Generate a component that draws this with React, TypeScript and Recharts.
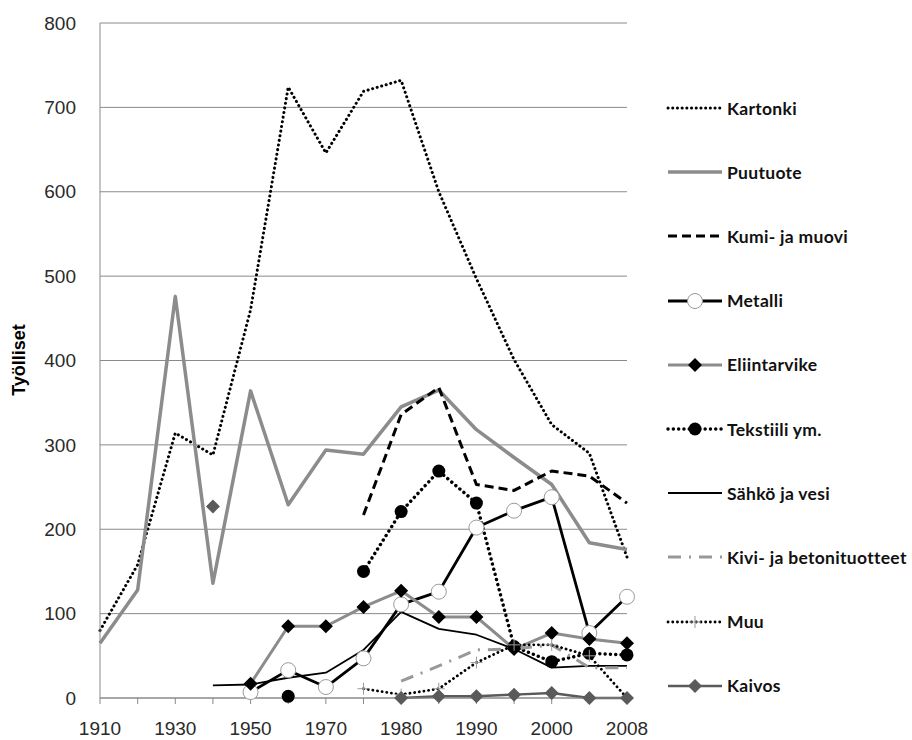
import { CartesianGrid, Legend, Line, LineChart, XAxis, YAxis } from "recharts";

const years = [
  "1910", "1920", "1930", "1940", "1950", "1960", "1970", "1975",
  "1980", "1985", "1990", "1995", "2000", "2005", "2008",
];

const kartonki = [80, 158, 314, 288, 460, 724, 646, 719, 732, 600, 497, 401, 324, 290, 167];
const puutuote = [65, 128, 476, 136, 364, 229, 294, 289, 345, 365, 318, 285, 253, 184, 176];
const kumi = [null, null, null, null, null, null, null, 217, 336, 368, 253, 246, 269, 263, 231];
const metalli = [null, null, null, null, 7, 33, 13, 47, 111, 126, 202, 222, 238, 77, 120];
const eliintarvike = [null, null, null, null, 17, 85, 85, 108, 127, 96, 96, 58, 77, 70, 65];
const tekstiili = [null, null, null, null, null, 2, null, 150, 221, 269, 231, 61, 43, 53, 51];
const sahko = [null, null, null, 15, 16, 24, 30, 57, 102, 82, 75, 58, 36, 38, 38];
const kivi = [null, null, null, null, null, null, null, null, 20, 38, 57, 58, 63, 36, 36];
const muu = [null, null, null, null, null, null, null, 11, 4, 11, 42, 63, 63, 50, 0];
const kaivos = [null, null, null, 227, null, null, null, null, 0, 2, 2, 4, 6, 0, 0];

const yTicks = [0, 100, 200, 300, 400, 500, 600, 700, 800];

type Marker = "none" | "circleOpen" | "circleFilled" | "diamond" | "diamondDark" | "plus";

interface Series {
  key: string;
  name: string;
  values: (number | null)[];
  stroke: string;
  width: number;
  dash?: string;
  round?: boolean;
  marker: Marker;
}

const SERIES: Series[] = [
  { key: "kartonki", name: "Kartonki", values: kartonki, stroke: "#000", width: 3, dash: "0.1 4.6", round: true, marker: "none" },
  { key: "puutuote", name: "Puutuote", values: puutuote, stroke: "#8c8c8c", width: 3.5, marker: "none" },
  { key: "kumi", name: "Kumi- ja muovi", values: kumi, stroke: "#000", width: 3, dash: "9 5", marker: "none" },
  { key: "metalli", name: "Metalli", values: metalli, stroke: "#000", width: 2.8, marker: "circleOpen" },
  { key: "eliintarvike", name: "Eliintarvike", values: eliintarvike, stroke: "#8c8c8c", width: 3, marker: "diamond" },
  { key: "tekstiili", name: "Tekstiili ym.", values: tekstiili, stroke: "#000", width: 3.4, dash: "0.1 5.2", round: true, marker: "circleFilled" },
  { key: "sahko", name: "Sähkö ja vesi", values: sahko, stroke: "#000", width: 1.8, marker: "none" },
  { key: "kivi", name: "Kivi- ja betonituotteet", values: kivi, stroke: "#999", width: 3, dash: "13 8 2 8", marker: "none" },
  { key: "muu", name: "Muu", values: muu, stroke: "#000", width: 2.8, dash: "0.1 4.6", round: true, marker: "plus" },
  { key: "kaivos", name: "Kaivos", values: kaivos, stroke: "#5a5a5a", width: 2.5, marker: "diamondDark" },
];

const data = years.map((year, i) => {
  const row: Record<string, string | number | null> = { year };
  SERIES.forEach((s) => {
    row[s.key] = s.values[i];
  });
  return row;
});

function MarkerShape({ shape, cx, cy }: { shape: Marker; cx: number; cy: number }) {
  switch (shape) {
    case "circleOpen":
      return <circle cx={cx} cy={cy} r={7.5} fill="#fff" stroke="#9a9a9a" strokeWidth={1} />;
    case "circleFilled":
      return <circle cx={cx} cy={cy} r={6.5} fill="#000" />;
    case "diamond":
    case "diamondDark":
      return (
        <polygon
          points={`${cx},${cy - 7} ${cx + 7},${cy} ${cx},${cy + 7} ${cx - 7},${cy}`}
          fill={shape === "diamond" ? "#000" : "#5a5a5a"}
        />
      );
    case "plus":
      return (
        <path
          d={`M${cx - 6},${cy}H${cx + 6}M${cx},${cy - 6}V${cy + 6}`}
          stroke="#9a9a9a"
          strokeWidth={1}
        />
      );
    default:
      return null;
  }
}

function makeDot(s: Series) {
  if (s.marker === "none") return false;
  return (props: any) => {
    const { cx, cy, index, payload } = props;
    if (payload?.[s.key] == null || cy == null || cx == null) {
      return <g key={`${s.key}-dot-${index}`} />;
    }
    return (
      <g key={`${s.key}-dot-${index}`}>
        <MarkerShape shape={s.marker} cx={cx} cy={cy} />
      </g>
    );
  };
}

function XTick(props: any) {
  const { x, y, payload, index } = props;
  if (index % 2 !== 0) return <g />;
  return (
    <text x={x} y={y + 29} textAnchor="middle" fontSize={19} fontFamily="Liberation Sans, Arial" fill="#2a2a2a">
      {payload.value}
    </text>
  );
}

function YLabel() {
  return (
    <text
      x={25}
      y={360}
      transform="rotate(-90, 25, 360)"
      textAnchor="middle"
      fontSize={18}
      fontWeight="bold"
      fontFamily="Liberation Sans, Arial"
      fill="#000"
    >
      Työlliset
    </text>
  );
}

function LegendBox() {
  return (
    <div style={{ fontFamily: "Lato, sans-serif", fontSize: 17.5, fontWeight: 700, letterSpacing: 0.3, color: "#111" }}>
      {SERIES.map((s) => (
        <div key={s.key} style={{ height: 64.2, display: "flex", alignItems: "center" }}>
          <svg width={58} height={20} style={{ display: "block", flex: "none" }}>
            <line
              x1={2}
              y1={10}
              x2={56}
              y2={10}
              stroke={s.stroke}
              strokeWidth={s.width}
              strokeDasharray={s.dash}
              strokeLinecap={s.round ? "round" : "butt"}
            />
            <MarkerShape shape={s.marker} cx={29} cy={10} />
          </svg>
          <span style={{ marginLeft: 3, whiteSpace: "nowrap" }}>{s.name}</span>
        </div>
      ))}
    </div>
  );
}

export default function App() {
  return (
    <div style={{ position: "absolute", left: 0, top: 0, width: 912, height: 740, background: "#fff" }}>
      <LineChart width={912} height={740} data={data} margin={{ top: 23, right: 285, bottom: 12, left: 40 }}>
        <CartesianGrid vertical={false} stroke="#8a8a8a" strokeWidth={1} />
        <XAxis
          dataKey="year"
          interval={0}
          height={30}
          padding={{ left: 0, right: 0 }}
          axisLine={{ stroke: "#8a8a8a" }}
          tickLine={{ stroke: "#8a8a8a" }}
          tickSize={6}
          tick={<XTick />}
        />
        <YAxis
          domain={[0, 800]}
          ticks={yTicks}
          width={60}
          axisLine={{ stroke: "#8a8a8a" }}
          tickLine={false}
          tickMargin={18}
          tick={{ fontSize: 19, fontFamily: "Liberation Sans, Arial", fill: "#2a2a2a" }}
          label={<YLabel />}
        />
        <Legend
          layout="vertical"
          align="center"
          verticalAlign="middle"
          content={<LegendBox />}
          wrapperStyle={{ left: 666, top: 76, width: 246 }}
        />
        {SERIES.map((s) => (
          <Line
            key={s.key}
            type="linear"
            dataKey={s.key}
            name={s.name}
            stroke={s.stroke}
            strokeWidth={s.width}
            strokeDasharray={s.dash}
            strokeLinecap={s.round ? "round" : "butt"}
            strokeLinejoin="round"
            dot={makeDot(s)}
            activeDot={false}
            connectNulls={false}
            isAnimationActive={false}
          />
        ))}
      </LineChart>
    </div>
  );
}
